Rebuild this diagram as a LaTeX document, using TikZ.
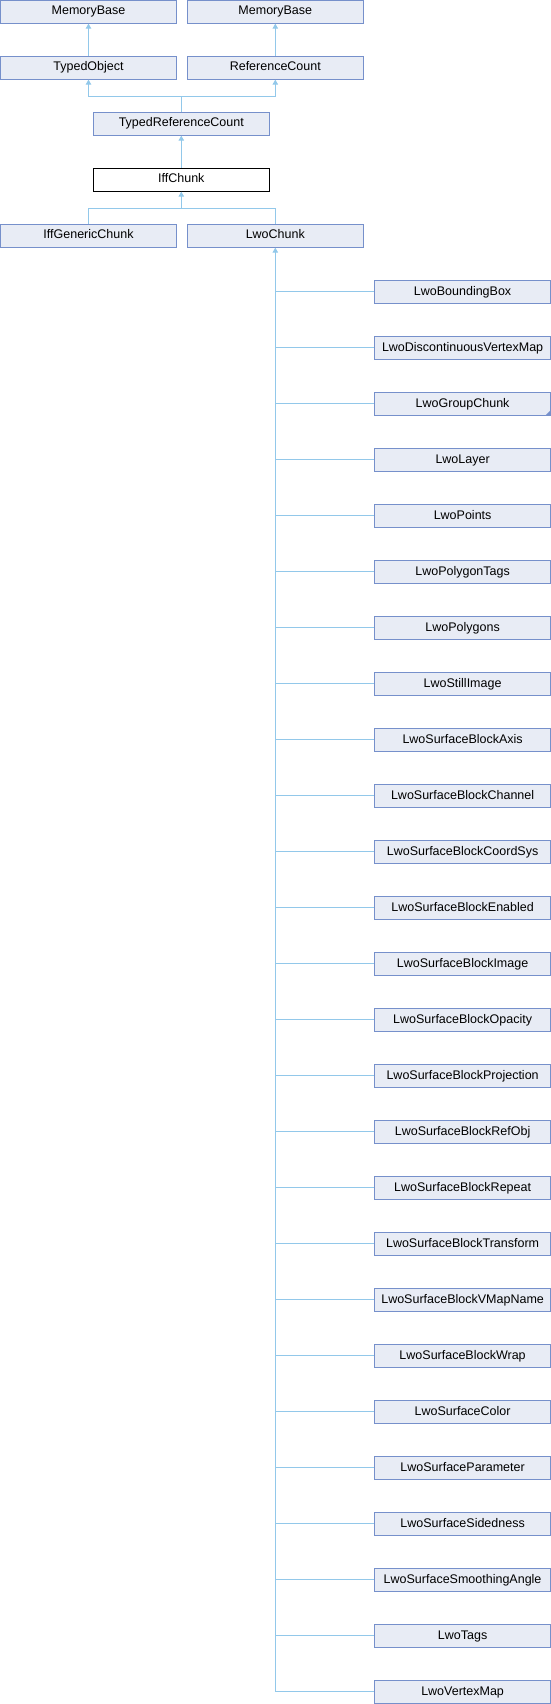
\documentclass[tikz,border=0pt]{standalone}
\usepackage{fontspec}
\setmainfont{Liberation Sans}
\usetikzlibrary{arrows.meta}
\definecolor{boxfill}{RGB}{232,236,245}
\definecolor{boxdraw}{RGB}{118,144,203}
\definecolor{edgecol}{RGB}{146,200,234}
\begin{document}
\begin{tikzpicture}[x=1pt,y=-1pt,
  cls/.style={draw=boxdraw,fill=boxfill,line width=0.9pt,minimum width=176pt,minimum height=23pt,inner sep=0pt,
    text height=9pt,text depth=2.6pt,font=\fontsize{12.5pt}{14pt}\selectfont},
  cur/.style={cls,draw=black,fill=white},
  edge/.style={draw=edgecol,line width=0.9pt,-{Triangle[length=5pt,width=5.5pt]}},
  ln/.style={draw=edgecol,line width=0.9pt}]
\useasboundingbox (0,0) rectangle (551,1704);
\node[cls] (mb1) at (88.5,11.7) {MemoryBase};
\node[cls] (mb2) at (275.3,11.7) {MemoryBase};
\node[cls] (to) at (88.5,67.7) {TypedObject};
\node[cls] (rc) at (275.3,67.7) {ReferenceCount};
\node[cls] (trc) at (181.3,123.7) {TypedReferenceCount};
\node[cur] (iff) at (181.3,179.7) {IffChunk};
\node[cls] (igc) at (88.5,235.7) {IffGenericChunk};
\node[cls] (lwo) at (275.3,235.7) {LwoChunk};
\draw[edge] (to.north) -- (mb1.south);
\draw[edge] (rc.north) -- (mb2.south);
\coordinate (m1) at (181.3,96.7);
\draw[edge] (trc.north) -- (m1) -| (to.south);
\draw[edge] (m1) -| (rc.south);
\draw[edge] (iff.north) -- (trc.south);
\coordinate (m2) at (181.3,208.3);
\draw[ln] (igc.north) |- (m2);
\draw[edge] (lwo.north) |- (m2) -- (iff.south);
\foreach \name [count=\k] in {LwoBoundingBox,LwoDiscontinuousVertexMap,LwoGroupChunk,LwoLayer,LwoPoints,LwoPolygonTags,LwoPolygons,LwoStillImage,LwoSurfaceBlockAxis,LwoSurfaceBlockChannel,LwoSurfaceBlockCoordSys,LwoSurfaceBlockEnabled,LwoSurfaceBlockImage,LwoSurfaceBlockOpacity,LwoSurfaceBlockProjection,LwoSurfaceBlockRefObj,LwoSurfaceBlockRepeat,LwoSurfaceBlockTransform,LwoSurfaceBlockVMapName,LwoSurfaceBlockWrap,LwoSurfaceColor,LwoSurfaceParameter,LwoSurfaceSidedness,LwoSurfaceSmoothingAngle,LwoTags,LwoVertexMap}{
  \node[cls] (c\k) at (462.6,{291.8+56*(\k-1)}) {\name};
  \draw[ln] (c\k.west) -- (lwo.south |- c\k.west);
}
\draw[edge] (lwo.south |- c26.west) -- (lwo.south);
\fill[boxdraw] ([xshift=-0.5pt,yshift=0.5pt]c3.south east) -- ++(0,-5) -- ++(-5,5) -- cycle;
\end{tikzpicture}
\end{document}
